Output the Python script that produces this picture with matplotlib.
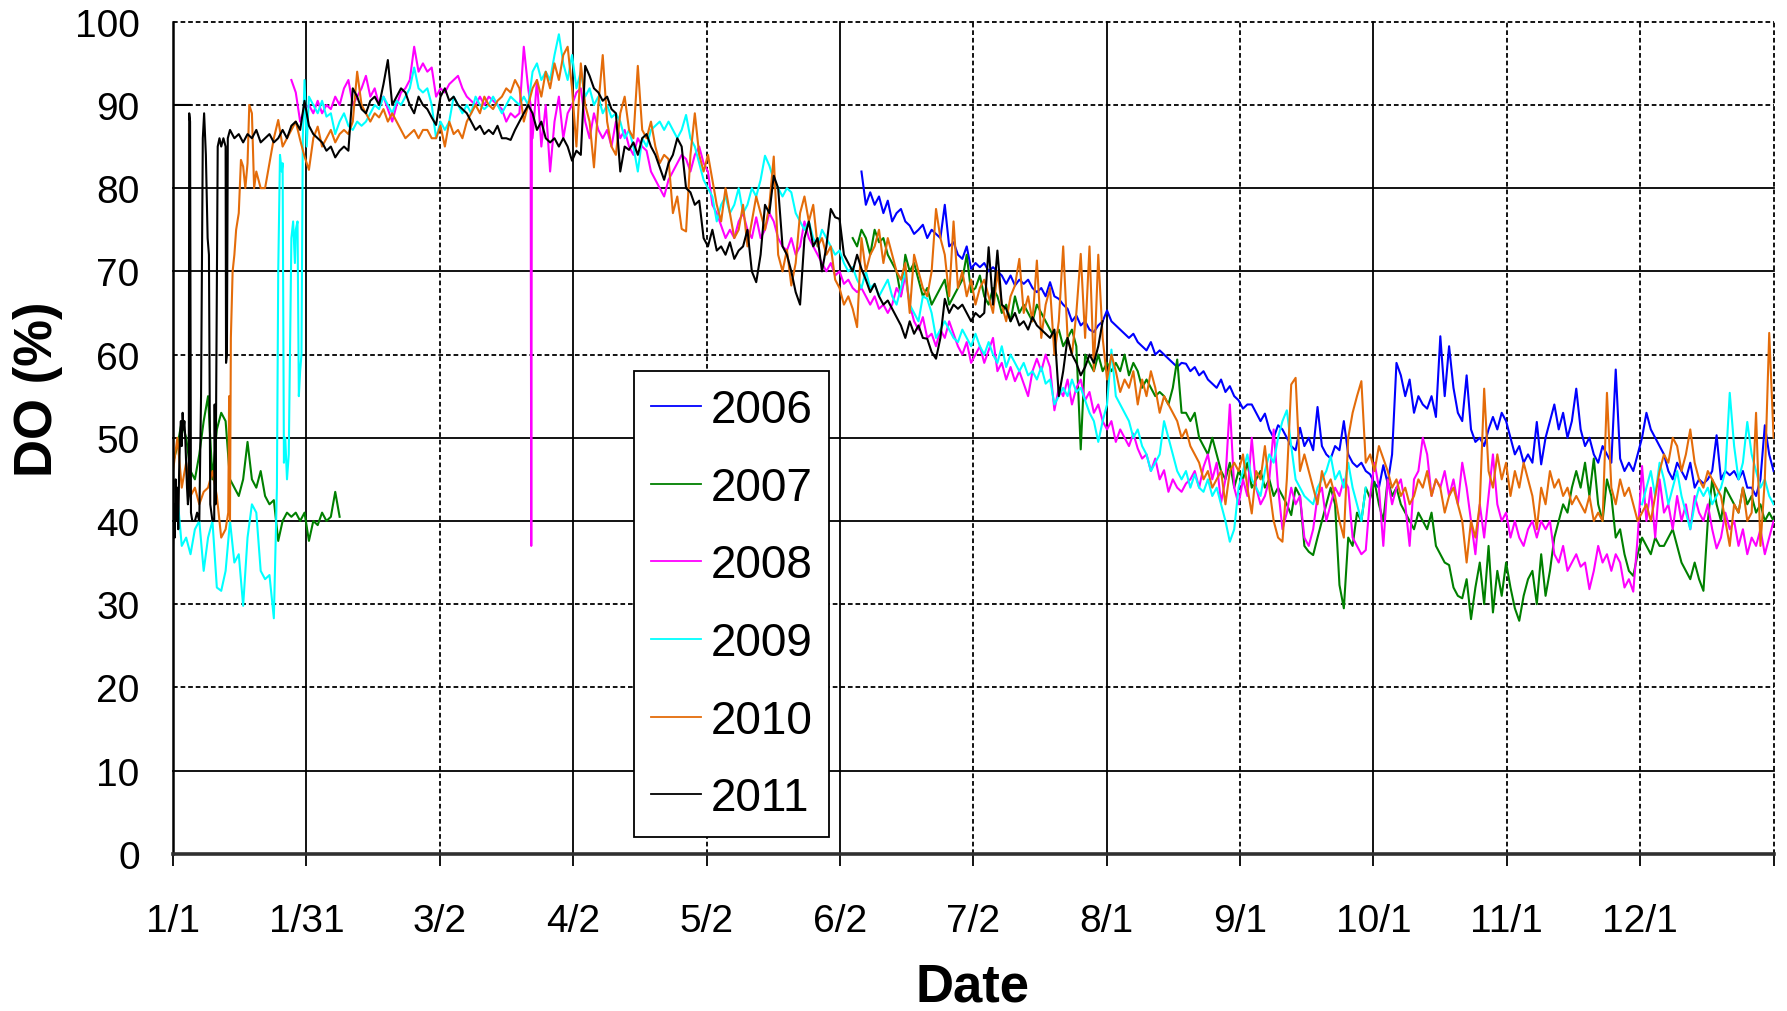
import numpy as np
import matplotlib
matplotlib.use("Agg")
import matplotlib.pyplot as plt

plt.rcParams['font.family'] = ['Liberation Sans', 'DejaVu Sans']

# ---------------------------------------------------------------------------
# Axis definitions (x = day of year, 0 = 1 January)
# ---------------------------------------------------------------------------
tick_labels = ['1/1', '1/31', '3/2', '4/2', '5/2', '6/2', '7/2', '8/1',
               '9/1', '10/1', '11/1', '12/1', '']
year_days = 365
y_ticks = [0, 10, 20, 30, 40, 50, 60, 70, 80, 90, 100]

years = ['2006', '2007', '2008', '2009', '2010', '2011']
colors = ['#0000FF', '#008000', '#FF00FF', '#00FFFF', '#E46C0A', '#000000']

# ---------------------------------------------------------------------------
# Dissolved oxygen saturation (%), daily values
# ---------------------------------------------------------------------------
# 2006: record starts in early June
do2006_start = 157
do2006 = [
    82, 78, 79.5, 78, 79, 77, 78.5, 76, 77, 77.5,
    76, 75.5, 74.5, 75, 75.6, 74, 75, 74.5, 74, 78,
    73, 73.5, 72, 71.5, 73, 70.3, 71, 70.5, 71, 70,
    70.5, 70, 69.5, 68.5, 69.5, 68.3, 69, 68.5, 69, 68,
    67.5, 68, 67, 68.7, 67, 66.7, 66, 65.5, 64, 64.7,
    63.5, 64, 63, 62.7, 63.5, 64, 65.3, 64, 63.5, 63,
    62.5, 62, 62.5, 61.5, 61, 60.5, 61.5, 60, 60.5, 60,
    59.5, 59, 58.5, 59, 58.9, 58, 58.5, 57.5, 58, 57,
    56.5, 56, 57, 55.5, 56.2, 55, 54.5, 53.5, 54, 54,
    53, 52, 52.9, 51, 50, 51.5, 51, 50, 49, 48.5,
    51.2, 49, 50, 48.5, 53.7, 49, 48, 47.5, 49, 48.5,
    52, 48, 47, 46.5, 47, 46, 45.6, 44.5, 44, 46.7,
    44.5, 48, 59, 57.5, 55, 57, 53, 55, 54, 53.5,
    55, 52.5, 62.2, 55, 61, 56, 53, 52, 57.5, 51,
    49.5, 50, 49, 51, 52.5, 51, 53, 52, 50, 48,
    49, 47, 48, 47, 51.9, 46.8, 50, 52, 54, 51,
    53, 50, 52, 55.9, 51, 49, 50, 48, 47, 49,
    48, 47, 58.2, 47.5, 46, 47, 46, 48, 50, 53,
    51, 50, 49, 48, 46, 45, 47, 46, 45, 47,
    44, 45, 44.5, 45, 46, 50.3, 45, 46, 45.5, 46,
    45, 46, 44, 44, 43, 45, 51.5, 48, 46,
]

# 2007: short record in January, then from early June
do2007_a_start = 0
do2007_a = [
    47, 49, 52, 50, 46, 45, 48, 52, 55, 45,
    51, 53, 52, 45, 44, 43, 45, 49.5, 45, 44,
    46, 43, 42, 42.5, 37.6, 40, 41, 40.5, 41, 40,
    41, 37.6, 40, 39.5, 41, 40, 40.5, 43.5, 40.5,
]
do2007_b_start = 155
do2007_b = [
    74, 73, 75, 74, 72, 75, 73.5, 74, 72, 71,
    70, 67, 72, 70, 71, 69, 67, 68, 66, 67,
    68, 69, 66, 67, 68, 69, 72, 67.5, 68, 69.5,
    67, 66, 68, 67, 65, 66, 64, 67, 65, 66,
    65, 64, 66, 65, 64, 63, 62, 63, 61, 62,
    63, 61, 48.6, 60, 59, 58, 60, 58, 59, 58,
    59, 58, 60, 57.5, 59, 58, 56, 57, 56, 55,
    55.5, 55, 54, 56, 59.4, 53, 53, 52, 53, 50,
    49, 48, 50, 48, 46, 45, 47, 44, 46, 45,
    47, 44, 45, 46, 44, 45, 43, 44, 43, 42,
    40.7, 44, 43, 37, 36.3, 35.9, 38, 40, 42, 44,
    42, 32.3, 29.5, 38, 37, 41, 40, 44, 42.7, 44.7,
    42, 40, 45, 43, 44, 42, 41, 40, 39, 41,
    40, 39, 41, 37, 36, 35, 34.7, 32, 31, 30.7,
    33, 28.2, 32, 35, 30, 37, 29, 34, 31, 35,
    32, 29.5, 28, 31, 33, 34, 30, 36, 31, 34,
    38, 40, 42, 41, 44, 46, 44, 47, 43, 47.5,
    42, 40, 45, 43, 38, 39, 36, 34, 33.4, 36,
    38, 37, 36, 38, 37, 37, 38, 39, 37, 35,
    34, 33, 35, 33, 31.6, 40, 45, 42, 40, 44,
    43, 42, 41, 44, 42, 43, 41, 42, 40, 41, 40,
]

# 2008: record starts late January; brief sensor drop-out in March
do2008_start = 27
do2008 = [
    93, 91.5, 88, 89.5, 90, 89, 90.5, 89, 90, 89.5,
    91, 90, 92, 93, 90, 91, 92, 93.5, 91, 92,
    90, 91, 89.5, 88, 90, 91.5, 92, 93, 97, 94,
    95, 94, 94.5, 91, 92, 91.5, 92.5, 93, 93.5, 92,
    91, 90.5, 90, 91, 90, 91, 90.5, 90, 89.5, 88,
    89, 88.5, 89, 97, 92, 86, 93, 85, 90, 82,
    88, 91, 86, 89, 90, 91.5, 92, 88, 86, 89,
    87, 86, 87, 85, 88, 86, 87, 85, 84, 86,
    85, 84.5, 82, 81, 80, 79, 81, 82, 83, 84,
    83.5, 82, 84, 85, 83, 82, 78, 77, 75.5, 74,
    75, 74, 76, 77, 75, 74, 76.5, 74, 75, 77,
    76, 74, 73, 72.5, 74, 72, 73, 76, 74, 73,
    72, 71, 70, 71, 69.5, 70, 68.5, 69, 68, 67.5,
    68, 67, 66, 67, 65.5, 66, 65, 66, 68, 67,
    69.5, 66, 64, 63, 64.5, 62, 62.5, 61, 63, 62,
    64, 62.5, 61, 60, 61.5, 59, 60, 61, 59, 60.5,
    62, 58, 59, 57, 58.5, 56.8, 58, 56.5, 55, 58,
    59.5, 58, 60, 58.5, 53.3, 56, 55, 57, 54, 56,
    57, 54.5, 55.5, 53, 54, 52, 51, 52, 49.5, 51,
    50, 49, 50.5, 48.7, 47.5, 48, 46, 47.5, 45, 46.1,
    43.5, 45, 44, 43.5, 44.5, 45, 46, 44, 46.5, 48,
    45, 47, 42.2, 45, 54, 44, 42, 45, 43, 50,
    44, 42, 43, 45, 51, 44, 39, 41, 44, 42,
    43, 38, 37, 39, 43, 44, 40, 42, 44, 43,
    45, 44, 38, 37, 36, 36.5, 43, 47, 44, 37,
    45, 42, 44, 45, 42, 37, 45, 46, 50, 48,
    43, 45, 44, 46, 43, 45, 42, 47, 44, 40,
    36, 42, 38, 43, 48, 42, 40, 41, 38, 40,
    38, 37, 39, 40, 38, 40, 39, 40, 36, 35,
    37, 34, 35, 36, 34.5, 35, 31.8, 34, 37, 35,
    36, 34, 36, 35, 32, 33, 31.5, 38, 46.6, 40,
    44, 38, 45, 41, 42, 39, 43, 40, 42, 39,
    43, 41, 40, 42, 39, 36.7, 38, 41, 39, 40,
    37, 39, 36, 38, 37, 39, 36, 38, 40,
]
do2008_dropout_days = [81.55, 81.7, 81.85]
do2008_dropout = [90, 37, 89]

# 2009: January to early October, then again from December
do2009_a_start = 0
do2009_a = [
    40, 43, 37, 38, 36, 39, 40, 34, 38, 40,
    32, 31.6, 34, 40, 35, 36, 29.8, 38, 42, 41,
    34, 33, 33.5, 28.3, 70, 83, 45, 74, 75, 58,
    93,
    91, 90, 89, 90.5, 88.6, 89, 86.5, 88, 89, 87.5,
    87, 88, 87.5, 88, 89, 90, 89.5, 91, 90, 89,
    90.5, 90, 91, 92, 94.5, 92, 91.5, 92, 90, 86,
    88, 87, 88, 91, 90, 89, 90, 89, 91, 90,
    89.5, 90, 91, 90, 89, 90, 91, 90.5, 90, 91,
    90, 94, 95, 93, 94, 93, 96, 98.5, 95, 93,
    96, 92, 94, 91, 92, 90, 91, 89, 90, 88.5,
    89, 88, 86, 87, 85, 82, 86, 85, 87, 87.5,
    88, 87, 88, 87, 86, 87, 88.8, 86, 85, 83,
    81, 80, 79, 76, 78, 79, 77, 78, 80, 77,
    78, 80, 79, 81, 83.9, 82.7, 81, 80, 79, 80,
    79.5, 77, 76, 75, 76, 74, 73, 75, 74, 73,
    72, 72.5, 71, 70, 70.5, 69, 68, 70, 68, 68.5,
    67, 68, 69, 67, 66, 68, 70, 66, 65, 64,
    67, 66.7, 65, 62, 63, 64, 63, 62, 61.5, 63,
    62, 61, 62.5, 61, 60, 61.5, 60, 59, 61, 58.5,
    60, 59, 58, 59, 57.5, 58, 57, 58.5, 56.5, 57,
    54, 55, 56, 55, 57, 55.5, 56, 54.5, 53, 52,
    49.5, 52, 54, 60.6, 55, 54, 53, 52, 50, 51,
    49, 48, 46, 47, 48, 52, 50, 48, 46, 45,
    46, 44, 45.6, 44, 43.5, 45, 43, 44, 42, 40,
    37.5, 39, 44, 46, 48, 45, 44, 43, 46, 48,
    47, 50, 52, 53.3, 49, 45, 44, 43, 42.5, 42,
    44, 45, 46, 47.8, 45, 46, 44, 47, 44, 42, 40, 44,
]
do2009_rise_days = [23.7, 24.4, 24.8, 25.3, 25.6, 26.4, 26.8, 27.4,
                    27.8, 28.4, 28.7, 29.3, 29.6, 30.5]
do2009_rise = [44, 84, 82, 47, 50, 48, 66, 76, 71, 76, 55, 60, 86, 85]
do2009_b_start = 335
do2009_b = [
    42, 44, 46, 43, 47, 45, 42, 44, 46, 43,
    41, 39, 42, 44, 43, 44, 42, 43, 44, 46,
    55.4, 49, 45, 47, 51.9, 48, 46, 44, 45, 43, 42,
]

# 2010: full year
do2010_start = 0
do2010 = [
    46, 50, 44, 47, 43, 44, 42, 43.5, 44, 46,
    43, 38, 39, 40, 72, 77, 82.6, 83, 89, 82,
    80, 80, 83, 86, 88.2, 85, 86, 87, 88, 85.8,
    83.8, 82.2, 86, 87.4, 85, 86, 87, 85.5, 86.5, 87,
    86.5, 88, 94, 90, 89, 88, 89, 88.5, 89.5, 88,
    89, 88, 87, 86, 86.5, 87, 86, 87, 87, 86,
    86, 87.5, 85, 88, 86.5, 87, 86, 88, 89, 90,
    89, 91, 90, 89.5, 90.5, 91, 92, 91.5, 93, 92,
    88, 90, 92, 93, 91, 94, 92, 95, 93, 96,
    97, 92, 85, 95, 90, 88, 82.5, 90, 96, 88,
    85, 84, 89, 91, 87, 86, 94.7, 87, 86, 88,
    85, 83, 84, 83.5, 77, 79, 75.1, 74.8, 84, 89,
    84, 82, 84, 81, 78, 76, 80, 77, 74, 75,
    78, 73, 76, 79, 77, 75, 78, 83.8, 72, 70,
    72.6, 68.3, 71, 77, 79, 76, 78, 73, 74, 72,
    73, 69, 68, 66, 67, 65.5, 63.3, 74, 70, 72,
    73, 75, 71, 74, 72, 70, 69, 71, 65, 72,
    70, 68, 67, 70, 77.5, 74, 72, 67, 76, 68,
    70, 67, 69, 66, 68, 69, 67, 65, 70, 66,
    64, 67, 68.3, 71.5, 65, 67, 64, 71.3, 62, 66,
    68, 60, 64, 73, 62, 60, 65, 72.1, 62, 73,
    58, 72, 62, 57, 60, 58, 55.5, 57, 56, 58,
    54, 57, 55, 58, 56, 53, 55, 54, 53, 52,
    50, 51, 49, 48, 47, 45, 46, 44, 45, 46,
    42, 46, 47, 46, 48, 44, 40.9, 46, 45, 49,
    44, 40, 38, 37.5, 45, 56.4, 57.2, 46, 48, 46,
    44, 42, 46, 44, 45, 43, 40, 38, 50, 53,
    55, 56.8, 47, 48, 46, 49, 47.5, 46, 44, 45,
    43, 44, 42, 43, 45, 44, 46, 43, 45, 44,
    41, 43, 44, 42, 40, 35, 40, 38, 42, 55.9,
    46, 44, 48, 45, 47, 43, 46, 44, 47, 45,
    43, 39, 44, 42, 46, 44, 45, 43, 44, 42,
    43, 42, 41, 43, 40, 41, 40, 55.4, 44, 42,
    45, 43, 44, 42, 40, 41, 42, 40, 43, 46,
    48, 47, 50, 49, 46, 48, 51, 47, 45, 44,
    46, 45, 44, 43, 40, 37, 42, 41, 44, 40,
    41, 53, 37, 45, 62.6, 50,
]
do2010_rise_days = [12.6, 12.8, 13.2, 13.6, 14.4, 15.5, 16.5, 17.4, 18.5]
do2010_rise = [41, 55, 62, 70, 75, 83.4, 80, 90, 80]

# 2011: unstable readings in early January, record ends 1 August
do2011_hold_days = [0.0, 4.0]
do2011_hold = [90, 90]
do2011_early_days = [0.0, 0.2, 0.4, 0.6, 0.8, 1.0, 1.2, 1.4, 1.6, 1.8,
                     2.0, 2.2, 2.4, 2.6, 2.8, 3.0, 3.2, 3.4, 3.6, 3.7,
                     3.9, 4.1, 4.4, 5.0, 5.5, 6.0, 6.4, 6.8, 7.1, 7.5,
                     7.9, 8.2, 8.5, 9.0, 9.4, 9.5, 9.7, 9.9, 10.2, 10.6,
                     11.0, 11.5, 12.0, 12.1, 12.3, 12.5]
do2011_early = [37, 42, 38, 45, 40, 44, 39, 46, 50, 52,
                49, 53, 51, 52, 50, 47, 44, 42, 43, 89,
                88, 41, 40, 40, 41, 40, 55, 86, 89, 84,
                74, 72, 42, 40, 40, 54, 42, 60, 85, 86,
                85, 86, 85, 59, 60, 86]
do2011_start = 13
do2011 = [
    87, 86, 86.5, 85.5, 86.5, 86, 87, 85.5, 86, 86.5,
    85.5, 86, 87, 86, 87.5, 88, 87, 90.5, 87.5, 86.5,
    86, 85.5, 84.5, 85, 83.7, 84.5, 85, 84.5, 92, 91,
    89.5, 89, 90.5, 91, 90, 92.5, 95.4, 90, 91, 92,
    91.5, 90, 89, 91, 90, 89.5, 88.5, 87.6, 91, 92,
    90.5, 91, 90, 89.5, 89, 88, 87, 87.5, 86.5, 87,
    86.5, 87.5, 86, 86, 85.8, 87, 88, 89, 90, 89,
    87, 88, 86, 85.5, 86, 85, 86, 85, 83.3, 84.5,
    84, 94.7, 93.5, 92, 91.5, 90.5, 91, 89.5, 89, 82,
    85, 84.6, 85.5, 84, 86, 86.5, 85, 84, 82.5, 81,
    83, 84, 86, 85, 80, 79.5, 78, 78.5, 74, 73,
    75, 72.5, 73, 72, 73.5, 71.5, 72.5, 73, 75, 70,
    68.7, 72, 78, 77, 81.5, 80, 73, 72, 70, 67.5,
    66, 74, 76, 73, 74, 70, 73, 77.5, 76.5, 76.3,
    72, 71, 70, 72, 70.3, 69, 67.5, 68.5, 67, 66,
    66.5, 65.5, 64.5, 63.5, 62, 64, 62.5, 63.5, 62, 61.9,
    60.3, 59.5, 62, 66.7, 65, 66, 65.5, 66, 65, 64,
    65, 64.5, 65, 72.9, 66, 72.5, 66, 65.5, 64, 65,
    63.5, 64, 63, 64.5, 63.5, 63, 62.5, 62, 63, 55,
    58, 62, 60, 59, 57.5, 58.5, 60, 59, 61, 64,
]


def daily(start, values):
    days = start + np.arange(len(values), dtype=float)
    return days, np.asarray(values, dtype=float)


def merged(days, values, extra_days, extra_values):
    d = np.concatenate([days, np.asarray(extra_days, float)])
    v = np.concatenate([values, np.asarray(extra_values, float)])
    order = np.argsort(d, kind='stable')
    return d[order], v[order]


def joined(*parts):
    ds, vs = [], []
    for i, (d, v) in enumerate(parts):
        if i:
            ds.append([np.nan])
            vs.append([np.nan])
        ds.append(d)
        vs.append(v)
    return np.concatenate(ds), np.concatenate(vs)


s2006 = daily(do2006_start, do2006)
s2007 = joined(daily(do2007_a_start, do2007_a), daily(do2007_b_start, do2007_b))
s2008 = merged(*daily(do2008_start, do2008), do2008_dropout_days, do2008_dropout)
s2009 = joined(merged(*daily(do2009_a_start, do2009_a), do2009_rise_days, do2009_rise),
               daily(do2009_b_start, do2009_b))
s2010 = merged(*daily(do2010_start, do2010), do2010_rise_days, do2010_rise)
s2011 = joined((np.asarray(do2011_hold_days, float), np.asarray(do2011_hold, float)),
               merged(*daily(do2011_start, do2011), do2011_early_days, do2011_early))
series = [s2006, s2007, s2008, s2009, s2010, s2011]

# ---------------------------------------------------------------------------
# Figure
# ---------------------------------------------------------------------------
fig = plt.figure(figsize=(17.87, 10.12), dpi=100)
ax = fig.add_axes([0.0968, 0.1554, 0.9925 - 0.0968, 0.9775 - 0.1554])

ax.set_xlim(0, year_days)
ax.set_ylim(0, 100)

x_ticks = np.arange(13) * year_days / 12.0

# gridlines: some solid, some dashed
dash = (0, (2.6, 1.6))
h_solid = {10, 40, 50, 70, 80}
for yv in y_ticks[1:]:
    ax.axhline(yv, color='black', lw=1.3,
               linestyle='-' if yv in h_solid else dash,
               zorder=0.5, clip_on=False)
v_solid = {1, 3, 5, 7, 9}
for i, xv in enumerate(x_ticks[1:], start=1):
    ax.axvline(xv, color='black', lw=1.3,
               linestyle='-' if i in v_solid else dash,
               zorder=0.5, clip_on=False)

handles = []
for (d, v), label, c in zip(series, years, colors):
    h, = ax.plot(d, v, color=c, lw=1.5, label=label, zorder=2)
    handles.append(h)

for side in ('top', 'right'):
    ax.spines[side].set_visible(False)
ax.spines['left'].set_linewidth(1.8)
ax.spines['left'].set_color('black')
ax.spines['bottom'].set_linewidth(2.6)
ax.spines['bottom'].set_color('#303030')

ax.set_xticks(x_ticks)
ax.set_xticklabels(tick_labels)
ax.set_yticks(y_ticks)
ax.tick_params(axis='x', direction='out', length=8.6, width=1.3,
               pad=27, labelsize=28, color='black')
ax.tick_params(axis='y', length=0, pad=24, labelsize=28)

fig.text(0.021, 0.615, 'DO (%)', rotation=90, fontsize=38,
         fontweight='bold', ha='center', va='center')
fig.text(0.544, 0.010, 'Date', fontsize=38, fontweight='bold',
         ha='center', va='baseline')

leg = ax.legend(handles, years, loc='upper left',
                bbox_to_anchor=(0.288, 0.5802), borderaxespad=0,
                fontsize=33, frameon=True, fancybox=False,
                edgecolor='black', framealpha=1, handlelength=1.1,
                handletextpad=0.2, labelspacing=0.735, borderpad=0.37)
leg.get_frame().set_linewidth(1.3)
for line in leg.get_lines():
    line.set_linewidth(1.3)
leg.set_zorder(5)

fig.savefig('out.png', dpi=100)
